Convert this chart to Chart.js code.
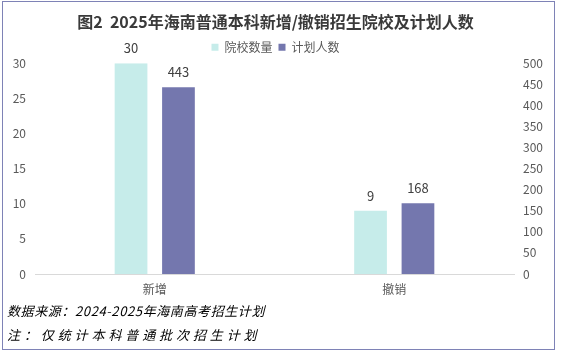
<!DOCTYPE html>
<html>
<head>
<meta charset="utf-8">
<script src="https://cdn.jsdelivr.net/npm/chart.js@4/dist/chart.umd.min.js"></script>
<style>
  html, body { margin: 0; padding: 0; background: #ffffff; }
  #wrap { position: relative; width: 561px; height: 356px; overflow: hidden; }
  #frame { position: absolute; left: 2px; top: 1px; width: 553px; height: 349px; box-sizing: border-box; border: 1px solid #7e82b6; pointer-events: none; }
  canvas { position: absolute; left: 0; top: 0; }
  .note { position: absolute; left: 7px; font-family: "Noto Sans CJK SC", sans-serif; font-style: italic; font-size: 13px; color: #000; white-space: nowrap; line-height: 16px; }
</style>
</head>
<body>
<div id="wrap">
  <canvas id="c" width="561" height="356"></canvas>
  <div id="frame"></div>
  <div class="note" id="n1" style="top:303px; letter-spacing:0.6px;"></div>
  <div class="note" id="n2" style="top:327px; letter-spacing:3.9px;"></div>
</div>
<script>
const titleText = "图2  2025年海南普通本科新增/撤销招生院校及计划人数";
const categories = ["新增", "撤销"];
const seriesNames = ["院校数量", "计划人数"];
const schoolCounts = [30, 9];
const planCounts = [443, 168];
const leftTicks = [0, 5, 10, 15, 20, 25, 30];
const rightTicks = [0, 50, 100, 150, 200, 250, 300, 350, 400, 450, 500];
const notes = ["数据来源：2024-2025年海南高考招生计划", "注：仅统计本科普通批次招生计划"];

document.getElementById('n1').textContent = notes[0];
document.getElementById('n2').textContent = notes[1];

const FONT = '"Noto Sans CJK SC", "Noto Sans", sans-serif';

const labelPlugin = {
  id: 'barLabels',
  afterDatasetsDraw(chart) {
    const ctx = chart.ctx;
    ctx.save();
    ctx.font = '13px ' + FONT;
    ctx.fillStyle = '#404040';
    ctx.textAlign = 'center';
    ctx.textBaseline = 'middle';
    chart.data.datasets.forEach((ds, i) => {
      const meta = chart.getDatasetMeta(i);
      meta.data.forEach((el, j) => {
        ctx.fillText(String(ds.data[j]), el.x, el.y - 15);
      });
    });
    ctx.restore();
  }
};

new Chart(document.getElementById('c'), {
  type: 'bar',
  data: {
    labels: categories,
    datasets: [
      { label: seriesNames[0], data: schoolCounts, yAxisID: 'y', backgroundColor: '#c6ecea', categoryPercentage: 0.396, barPercentage: 0.69 },
      { label: seriesNames[1], data: planCounts, yAxisID: 'y1', backgroundColor: '#7477ae', categoryPercentage: 0.396, barPercentage: 0.69 }
    ]
  },
  options: {
    responsive: false,
    animation: false,
    devicePixelRatio: 1,
    layout: { padding: { left: 5, right: 15, top: 0, bottom: 58 } },
    plugins: {
      title: {
        display: true,
        text: titleText,
        color: '#3a3a3a',
        font: { family: FONT, size: 16, weight: 'bold' },
        padding: { top: 12, bottom: 4 }
      },
      legend: {
        display: true,
        position: 'top',
        labels: {
          color: '#595959',
          font: { family: FONT, size: 12 },
          boxWidth: 7,
          boxHeight: 7,
          padding: 6
        }
      },
      tooltip: { enabled: false }
    },
    scales: {
      x: {
        grid: { display: false, drawTicks: false },
        border: { display: true, color: '#d9d9d9', width: 1 },
        ticks: { color: '#595959', font: { family: FONT, size: 12 }, padding: 8 },
        afterFit(axis) { axis.height = 24; }
      },
      y: {
        position: 'left',
        min: 0, max: 30,
        afterBuildTicks(axis) { axis.ticks = leftTicks.map(v => ({ value: v })); },
        grid: { display: false, drawTicks: false },
        border: { display: false },
        ticks: { color: '#595959', font: { family: FONT, size: 12 }, padding: 9 },
        afterFit(axis) { axis.width = 30; }
      },
      y1: {
        position: 'right',
        min: 0, max: 500,
        afterBuildTicks(axis) { axis.ticks = rightTicks.map(v => ({ value: v })); },
        grid: { display: false, drawTicks: false },
        border: { display: false },
        ticks: { color: '#595959', font: { family: FONT, size: 12 }, padding: 9 },
        afterFit(axis) { axis.width = 32; }
      }
    }
  },
  plugins: [labelPlugin]
});
</script>
</body>
</html>
